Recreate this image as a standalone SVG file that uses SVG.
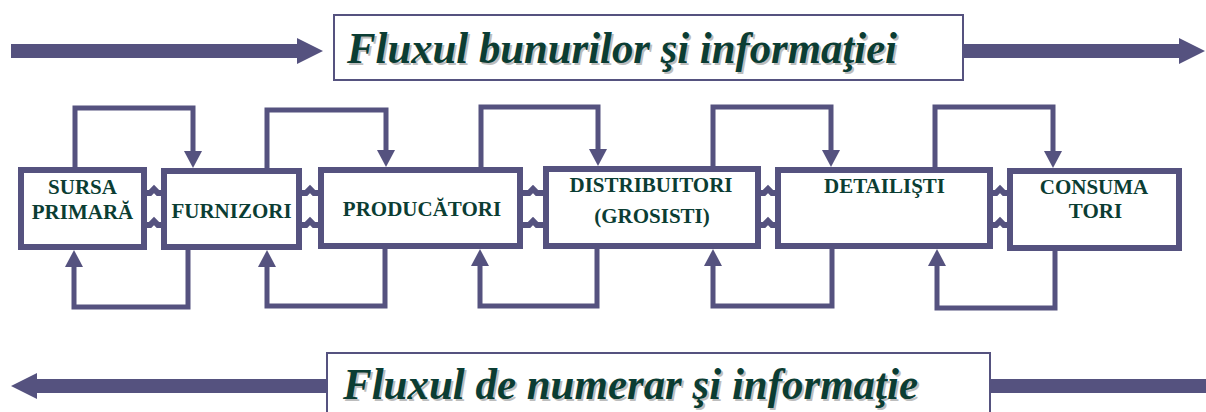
<svg xmlns="http://www.w3.org/2000/svg" width="1206" height="412" viewBox="0 0 1206 412">
<style>
.bg{fill:#ffffff}
.box{fill:#ffffff;stroke:#55527f;stroke-width:6}
.tbox{fill:#ffffff;stroke:#55527f;stroke-width:2}
.big{fill:#55527f}
.lbl{font-family:"Liberation Serif","Times New Roman",serif;font-weight:bold;font-size:21px;fill:#0b3d33;text-anchor:middle}
.ttl{font-family:"Liberation Serif","Times New Roman",serif;font-weight:bold;font-style:italic;font-size:45px;fill:#0b3d33}
.sh{fill:#bdbdbd}
.loop{fill:none;stroke:#55527f;stroke-width:5;stroke-linejoin:miter}
.link{fill:none;stroke:#55527f;stroke-width:6}
</style>
<defs>
<marker id="ah" markerUnits="userSpaceOnUse" markerWidth="20" markerHeight="20" refX="0" refY="9" orient="auto">
<path d="M0,0 L17,9 L0,18 z" fill="#55527f"/>
</marker>
</defs>
<rect class="bg" x="0" y="0" width="1206" height="412"/>

<g id="flow-top">
<path class="big" d="M11,44 H297 V38 L323,51 L297,64 V58 H11 z"/>
<path class="big" d="M963,44 H1179 V38 L1205,51 L1179,64 V58 H963 z"/>
<rect class="tbox" x="334" y="15" width="629" height="65"/>
<text class="ttl sh" x="349" y="65" textLength="550" lengthAdjust="spacingAndGlyphs">Fluxul bunurilor şi informaţiei</text>
<text class="ttl" x="347" y="63" textLength="550" lengthAdjust="spacingAndGlyphs">Fluxul bunurilor şi informaţiei</text>
</g>

<g id="flow-bottom">
<path class="big" d="M1206,379 H37 V373 L11,386 L37,399 V393 H1206 z"/>
<rect class="tbox" x="327" y="353" width="663" height="70"/>
<text class="ttl sh" x="345" y="401" textLength="575" lengthAdjust="spacingAndGlyphs">Fluxul de numerar şi informaţie</text>
<text class="ttl" x="343" y="399" textLength="575" lengthAdjust="spacingAndGlyphs">Fluxul de numerar şi informaţie</text>
</g>

<g id="connectors">
<path class="loop" d="M75,170 V108 H193 V151" marker-end="url(#ah)"/>
<path class="loop" d="M267,171 V110 H386 V150" marker-end="url(#ah)"/>
<path class="loop" d="M481,170 V107 H598 V149" marker-end="url(#ah)"/>
<path class="loop" d="M713,169 V107 H831 V150" marker-end="url(#ah)"/>
<path class="loop" d="M935,170 V107 H1053 V151" marker-end="url(#ah)"/>

<path class="loop" d="M188,247 V307 H74 V267" marker-end="url(#ah)"/>
<path class="loop" d="M385,246 V306 H267 V267" marker-end="url(#ah)"/>
<path class="loop" d="M597,246 V306 H480 V266" marker-end="url(#ah)"/>
<path class="loop" d="M832,246 V306 H713 V266" marker-end="url(#ah)"/>
<path class="loop" d="M1055,248 V308 H937 V266" marker-end="url(#ah)"/>

<path class="link" d="M145,193 H150 L154,189 L158,193 H163 M145,225 H150 L154,221 L158,225 H163"/>
<path class="link" d="M300,193 H306 L310,189 L314,193 H320 M300,225 H306 L310,221 L314,225 H320"/>
<path class="link" d="M521,193 H529 L533,189 L537,193 H545 M521,225 H529 L533,221 L537,225 H545"/>
<path class="link" d="M759,193 H764 L768,189 L772,193 H777 M759,225 H764 L768,221 L772,225 H777"/>
<path class="link" d="M991,193 H996 L1000,189 L1004,193 H1009 M991,225 H996 L1000,221 L1004,225 H1009"/>
</g>

<g id="sursa-primara">
<rect class="box" x="21" y="170" width="123" height="77"/>
<text class="lbl" x="82.5" y="194">SURSA</text>
<text class="lbl" x="82.5" y="219">PRIMARĂ</text>
</g>
<g id="furnizori">
<rect class="box" x="164" y="171" width="135" height="76"/>
<text class="lbl" x="231.5" y="218">FURNIZORI</text>
</g>
<g id="producatori">
<rect class="box" x="321" y="170" width="199" height="76"/>
<text class="lbl" x="422" y="216">PRODUCĂTORI</text>
</g>
<g id="distribuitori">
<rect class="box" x="546" y="169" width="212" height="77"/>
<text class="lbl" x="651" y="192">DISTRIBUITORI</text>
<text class="lbl" x="652" y="223">(GROSISTI)</text>
</g>
<g id="detailisti">
<rect class="box" x="778" y="170" width="212" height="76"/>
<text class="lbl" x="884.5" y="193">DETAILIŞTI</text>
</g>
<g id="consumatori">
<rect class="box" x="1010" y="171" width="169" height="77"/>
<text class="lbl" x="1094" y="194">CONSUMA</text>
<text class="lbl" x="1095.5" y="218">TORI</text>
</g>
</svg>
